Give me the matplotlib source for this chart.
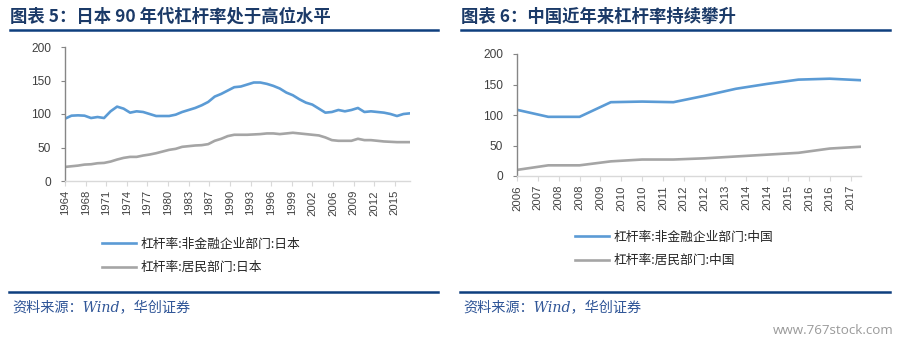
import numpy as np
import matplotlib
matplotlib.use("Agg")
import matplotlib.pyplot as plt
from matplotlib.lines import Line2D

plt.rcParams['font.family'] = ['Noto Sans CJK SC', 'DejaVu Sans']

# ---- data -------------------------------------------------------------
jp_years = list(range(1964, 2018))
jp_corp = [93, 97.5, 98, 97.5, 94, 95.5, 94, 104, 111, 108, 102, 104, 103, 100,
           97, 97, 97, 99, 103, 106, 109, 113, 118, 126, 130, 135, 140, 141,
           144, 147, 147, 145, 142, 138, 132, 128, 122, 117, 114, 108, 102,
           103, 106, 104, 106, 109, 103, 104, 103, 102, 100, 97, 100, 101]
jp_house = [21, 22, 23, 24.5, 25, 26.5, 27, 29, 32, 34.5, 36, 36, 38, 39.5,
            41.5, 44, 46.5, 48, 51, 52, 53, 53.5, 55, 60, 63, 67, 69, 69, 69,
            69.5, 70, 71, 71, 70, 71, 72, 71, 70, 69, 68, 65, 61, 60, 60, 60,
            63, 61, 61, 60, 59, 58.5, 58, 58, 58]
jp_ticklabels = ['1964', '1968', '1971', '1974', '1977', '1980', '1983', '1987',
                 '1990', '1993', '1996', '1999', '2002', '2006', '2009', '2012',
                 '2015']

cn_years = list(range(2006, 2018))
cn_corp = [108.5, 97, 97, 121, 122, 121, 131.5, 143, 151, 158, 159.5, 157]
cn_house = [10, 17.5, 17.5, 24, 27, 27, 29, 32, 35, 38, 45, 48]
cn_ticklabels = ['2006', '2007', '2008', '2008', '2009', '2010', '2010', '2011',
                 '2012', '2012', '2013', '2014', '2014', '2015', '2016', '2016',
                 '2017']

jp_labels = ['杠杆率:非金融企业部门:日本', '杠杆率:居民部门:日本']
cn_labels = ['杠杆率:非金融企业部门:中国', '杠杆率:居民部门:中国']
titles = ['图表 5：日本 90 年代杠杆率处于高位水平', '图表 6：中国近年来杠杆率持续攀升']
source = '资料来源：Wind，华创证券'

# ---- style ------------------------------------------------------------
W, H = 903, 346
BLUE = '#5b9bd5'
GRAY = '#a5a5a5'
NAVY = '#0e3f7e'
TITLE_C = '#1b3a68'
TICK_C = '#404040'
NUM_FONT = ['Liberation Sans', 'DejaVu Sans']

fig = plt.figure(figsize=(W / 100, H / 100), dpi=100)


def px_axes(x0, x1, ytop, ybot):
    return fig.add_axes([x0 / W, 1 - ybot / H, (x1 - x0) / W, (ybot - ytop) / H])


def style_axes(ax, n, tick_step, ticklabels):
    ax.set_xlim(0, n - 1)
    ax.set_ylim(0, 200)
    ax.set_yticks([0, 50, 100, 150, 200])
    ax.set_xticks(np.arange(len(ticklabels)) * tick_step)
    ax.set_xticklabels(ticklabels, rotation=90)
    for s in ('top', 'right'):
        ax.spines[s].set_visible(False)
    ax.spines['left'].set_color('#868686')
    ax.spines['left'].set_linewidth(1.0)
    ax.spines['bottom'].set_color('#d9d9d9')
    ax.spines['bottom'].set_linewidth(1.0)
    ax.tick_params(axis='y', length=3, width=0.8, color='#868686', pad=7,
                   labelsize=8.6, labelcolor=TICK_C)
    ax.tick_params(axis='x', length=3.5, width=0.8, color='#d9d9d9', pad=3,
                   labelsize=8.1, labelcolor=TICK_C)
    for lab in ax.get_xticklabels() + ax.get_yticklabels():
        lab.set_family(NUM_FONT)


def add_legend(ax, lines, labels, x, y):
    ax.legend(lines, labels, loc='center left', bbox_to_anchor=(x / W, 1 - y / H),
              bbox_transform=fig.transFigure, frameon=False, borderpad=0,
              borderaxespad=0, handlelength=2.65, handletextpad=0.35,
              labelspacing=0.8, prop={'size': 9.2}, labelcolor='#262626')


# ---- Japan ------------------------------------------------------------
ax1 = px_axes(65, 410, 47, 181)
x1 = np.arange(len(jp_years))
l1, = ax1.plot(x1, jp_corp, color=BLUE, lw=1.9, solid_joinstyle='round')
l2, = ax1.plot(x1, jp_house, color=GRAY, lw=1.9, solid_joinstyle='round')
style_axes(ax1, len(jp_years), 38 / 12, jp_ticklabels)
add_legend(ax1, [l1, l2], jp_labels, 102, 256)

# ---- China ------------------------------------------------------------
ax2 = px_axes(517, 861, 54, 176)
x2 = np.arange(len(cn_years))
l3, = ax2.plot(x2, cn_corp, color=BLUE, lw=1.9, solid_joinstyle='round')
l4, = ax2.plot(x2, cn_house, color=GRAY, lw=1.9, solid_joinstyle='round')
style_axes(ax2, len(cn_years), 8 / 12, cn_ticklabels)
add_legend(ax2, [l3, l4], cn_labels, 575, 249)

# ---- frame: titles, rules, source ------------------------------------
for (xl, xr), title in zip([(10, 438), (461, 890)], titles):
    fig.text(xl / W, 1 - 17 / H, title, fontsize=12.5, fontweight='bold',
             color=TITLE_C, va='center', ha='left')
    fig.add_artist(Line2D([xl / W, xr / W], [1 - 30 / H, 1 - 30 / H],
                          color=NAVY, lw=1.8, transform=fig.transFigure))
    fig.add_artist(Line2D([(xl - 1) / W, xr / W], [1 - 291.5 / H, 1 - 291.5 / H],
                          color=NAVY, lw=1.8, transform=fig.transFigure))
    fig.text((xl + 2) / W, 1 - 308 / H, source, fontsize=10.2, color='#2f5597',
             style='italic', va='center', ha='left',
             family=['DejaVu Serif', 'Noto Sans CJK SC'])

fig.text(894 / W, 1 - 330 / H, 'www.767stock.com', fontsize=9.6, color='#9a9a9a',
         va='center', ha='right', family=['Open Sans', 'DejaVu Sans'])

fig.savefig('out.png', dpi=100)
